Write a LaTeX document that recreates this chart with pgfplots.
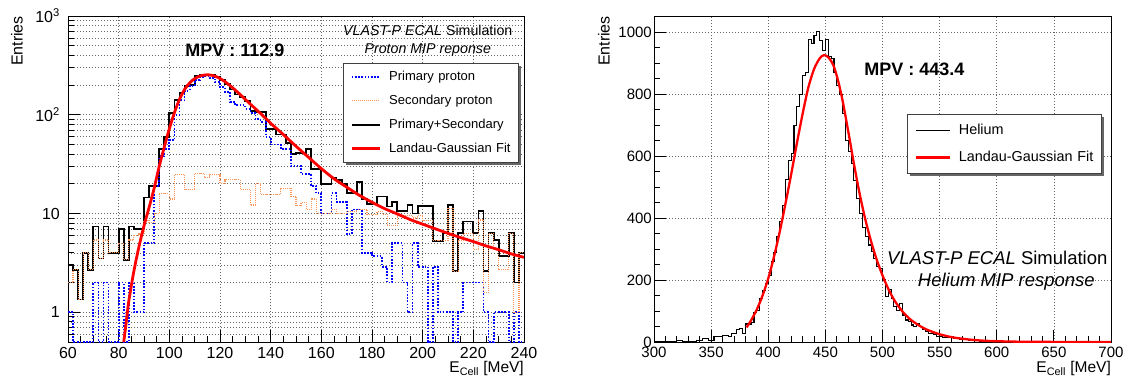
\documentclass[border=0pt]{standalone}
\usepackage{fontspec}
\setmainfont{Liberation Sans}
\usepackage{pgfplots}
\pgfplotsset{compat=1.18}
\usepackage{pgfplotstable}
\usetikzlibrary{shadows}

\definecolor{rootorange}{RGB}{250,150,90}
\definecolor{rootblue}{RGB}{0,0,255}
\definecolor{rootred}{RGB}{255,0,0}

\makeatletter
\tikzset{noshadow/.code={\let\tikz@preactions\pgfutil@empty}}
\makeatother

% Left panel: proton histograms (2 MeV bins, left edges; last row closes the last bin)
\pgfplotstableread{
E tot pri sec
60 3.0 1.0 2.0
62 2.7 0.5 2.7
64 1.35 0.5 1.35
66 4.0 0.5 4.0
68 2.7 0.5 2.7
70 7.4 2.0 5.4
72 3.5 0.5 3.5
74 7.4 2.0 5.4
76 4.0 0.5 4.0
78 4.0 0.5 4.0
80 7.0 2.0 5.0
82 3.4 0.5 3.4
84 7.4 2.0 5.4
86 7.0 1.0 6.0
88 7.0 1.0 6.2
90 14.5 5.0 8.5
92 19 5.0 8.1
94 19 19 10
96 45 38 16
98 60 45 16
100 104 55 14
102 140 100 25
104 165 140 25
106 195 175 17.5
108 200 195 17.5
110 250 225 25.6
112 254 240 25.6
114 254 245 23
116 254 235 24.7
118 240 215 24.7
120 225 190 20
122 205 170 22
124 180 135 22
126 160 125 22
128 150 125 17.5
130 137 115 17.5
132 110 105 12.2
134 106 90 20
136 106 85 15.5
138 72 60 15.5
140 72 50 15.5
142 63 50 15.5
144 63 45 18
146 52 45 18
148 40 30 15
150 41 30 12
152 41 25 13
154 45 25 11
156 28 19 14
158 28 16 10
160 20 10 10
162 20 10 10
164 23 16 11
166 22 13 10
168 20 13 10
170 16 6.2 10.5
172 16 11 10.5
174 21 11 11
176 14 4 11
178 12.6 4 9.8
180 12.6 3.7 9.8
182 14.9 3.7 10.5
184 14.9 2.9 9.8
186 11.8 2.0 7.5
188 13 5 7.5
190 10.6 5 9.5
192 10.6 2.0 9.5
194 12.3 1.0 9.5
196 10 5 9
198 12 2.9 9.5
200 12 2.9 8.5
202 12 0.5 8.5
204 5.3 2.9 5.3
206 5.3 1.0 5.3
208 6.3 1.0 5.3
210 12.3 1.0 11.3
212 2.6 0.5 2.6
214 6.3 1.0 5.3
216 8.3 2.0 6.3
218 8.3 2.0 6.3
220 6.3 2.0 4.3
222 10.6 2.0 8.6
224 2.6 1.0 1.6
226 6.3 0.5 6.3
228 5.4 1.0 4.4
230 3.7 1.0 2.7
232 3.7 1.0 2.7
234 6.3 0.5 6.3
236 2.0 1.0 1.0
238 4.0 0.5 4.0
240 4.0 0.5 4.0
}\leftdata

\pgfplotstableread{
E v
82 0.5
83 0.8
84 1.3
86 2.6
88 4.6
90 7.5
92 11.5
94 18
96 30
98 47
100 72
102 105
104 143
106 180
108 210
110 232
112 246
114 253
116 253
118 246
120 233
122 216
124 197
126 178
128 160
130 143
132 128
134 115
136 103
138 92
140 82
145 63
150 48
155 37
160 28.5
165 22.5
170 18.5
175 15.3
180 13
185 11.2
190 9.9
195 8.7
200 7.8
205 7.0
210 6.3
215 5.7
220 5.2
225 4.7
230 4.3
235 3.9
240 3.6
}\leftfit

% Right panel: helium histogram (2.5 MeV bins, left edges)
\pgfplotstableread{
E v
300 3
302.5 3
305 3
307.5 3
310 1
312.5 1
315 1
317.5 1
320 6
322.5 6
325 3
327.5 3
330 3
332.5 0
335 0
337.5 6
340 6
342.5 11
345 11
347.5 6
350 6
352.5 17
355 17
357.5 17
360 21
362.5 21
365 19
367.5 28
370 28
372.5 39
375 44
377.5 28
380 58
382.5 58
385 62
387.5 95
390 101
392.5 140
395 165
397.5 190
400 215
402.5 260
405 290
407.5 340
410 390
412.5 440
415 525
417.5 587
420 609
422.5 700
425 760
427.5 800
430 861
432.5 870
435 976
437.5 963
440 990
442.5 1003
445 974
447.5 942
450 976
452.5 920
455 915
457.5 870
460 829
462.5 800
465 737
467.5 651
470 614
472.5 576
475 522
477.5 463
480 415
482.5 370
485 340
487.5 313
490 291
492.5 270
495 245
497.5 238
500 200
502.5 146
505 168
507.5 140
510 115
512.5 103
515 125
517.5 87
520 71
522.5 66
525 55
527.5 49
530 60
532.5 49
535 39
537.5 33
540 28
542.5 26
545 23
547.5 19
550 19
552.5 15
555 15
557.5 17
560 19
562.5 12
565 12
567.5 9
570 9
572.5 9
575 6
577.5 4
580 4
582.5 4
585 3
587.5 2
590 2
592.5 2
595 2
597.5 1
600 1
602.5 2
605 1
607.5 0
610 1
612.5 0
615 1
617.5 0
620 0
700 0
}\rightdata

\pgfplotstableread{
E v
381 47
385 70
390 105
395 150
400 205
405 275
410 355
415 445
420 540
425 640
430 735
435 820
440 880
445 915
449 926
453 917
457 893
461 845
465 780
470 680
475 575
480 478
485 395
490 325
495 265
500 215
505 172
510 137
515 110
520 88
525 71
530 58
535 47
540 38
550 25
560 16
570 10.5
580 6.5
590 4
600 2.5
620 1
650 0.3
700 0
}\rightfit

\pgfplotsset{
  rootaxis/.style={
    scale only axis,
    height=326pt,
    axis line style={black, line width=0.9pt},
    tick pos=left, tick align=inside,
    major tick length=12pt, minor tick length=6pt,
    every tick/.style={black, line width=0.8pt},
    xmajorgrids, ymajorgrids,
    major grid style={black!60, line width=0.6pt, dash pattern=on 1pt off 2pt},
    minor grid style={black!60, line width=0.6pt, dash pattern=on 1pt off 2pt},
    /pgf/number format/assume math mode=true,
    /pgf/number format/1000 sep={},
    xticklabel style={inner sep=0pt, yshift=-5pt},
    every axis x label/.style={at={([yshift=-19pt]axis description cs:1,0)}, anchor=north east, inner sep=0pt},
    legend cell align=left,
    clip=true,
  }
}

\begin{document}
\begin{tikzpicture}
\useasboundingbox (0pt,0pt) rectangle (1129pt,381pt);

% ---------------- Left panel ----------------
\begin{axis}[rootaxis,
  at={(68pt,39pt)}, anchor=south west, width=456pt,
  xmin=60, xmax=240, ymode=log, ymin=0.5, ymax=1000,
  xtick={60,80,...,240}, minor x tick num=3,
  ytick={1,10,100,1000}, yticklabels={1,10,10\textsuperscript{2},10\textsuperscript{3}},
  minor ytick={0.6,0.7,0.8,0.9,2,3,4,5,6,7,8,9,20,30,40,50,60,70,80,90,200,300,400,500,600,700,800,900},
  yminorgrids,
  tick label style={font=\fontsize{16}{19}\selectfont},
  yticklabel style={inner sep=0pt, xshift=-8pt},
  xlabel={E\textsubscript{Cell} [MeV]},
  xlabel style={font=\fontsize{15.5}{18}\selectfont},
  ylabel={Entries},
  every axis y label/.style={at={([xshift=-45pt]axis description cs:0,1)}, rotate=90, anchor=south east, inner sep=0pt, font=\fontsize{16}{19}\selectfont},
  legend style={at={(0.603,0.856)}, anchor=north west, draw=black!75, line width=0.8pt, fill=white,
    drop shadow={shadow xshift=2.5pt, shadow yshift=-2.5pt, fill=black!60, opacity=1},
    font=\fontsize{13}{15}\selectfont, inner xsep=7pt, inner ysep=1.5pt, row sep=0pt,
    nodes={inner sep=0pt, minimum height=24pt},
    /tikz/every odd column/.append style={column sep=8pt},
    /tikz/every even column/.append style={text width=122pt}},
  legend image code/.code={\draw[noshadow, #1] (0pt,0pt) -- (28pt,0pt);},
]
\addplot[const plot, black, line width=1.8pt, forget plot] table[x=E, y=tot] {\leftdata};
\addplot[const plot, rootblue, line width=1.8pt, dash pattern=on 1.6pt off 1.6pt, forget plot] table[x=E, y=pri] {\leftdata};
\addplot[const plot, rootorange, line width=1.2pt, dash pattern=on 1pt off 1pt, forget plot] table[x=E, y=sec] {\leftdata};
\addplot[rootred, line width=2.8pt, smooth, forget plot] table[x=E, y=v] {\leftfit};
\addlegendimage{rootblue, line width=1.8pt, dash pattern=on 1.6pt off 1.6pt}
\addlegendentry{Primary proton}
\addlegendimage{rootorange, line width=1.2pt, dash pattern=on 1pt off 1pt}
\addlegendentry{Secondary proton}
\addlegendimage{black, line width=1.8pt}
\addlegendentry{Primary+Secondary}
\addlegendimage{rootred, line width=2.8pt}
\addlegendentry{Landau-Gaussian Fit}
\node[font=\bfseries\fontsize{18}{20}\selectfont] at (axis description cs:0.366,0.896) {MPV : 112.9};
\node[font=\fontsize{14.2}{16}\selectfont] at (axis description cs:0.789,0.957) {\textit{VLAST-P ECAL} Simulation};
\node[font=\itshape\fontsize{14.2}{16}\selectfont] at (axis description cs:0.789,0.896) {Proton MIP reponse};
\end{axis}

% ---------------- Right panel ----------------
\begin{axis}[rootaxis,
  at={(654pt,39pt)}, anchor=south west, width=457pt,
  xmin=300, xmax=700, ymin=0, ymax=1052,
  xtick={300,350,...,700}, minor x tick num=4,
  ytick={0,200,...,1000}, minor y tick num=3,
  tick label style={font=\fontsize{15}{18}\selectfont},
  yticklabel style={inner sep=0pt, xshift=-2pt},
  xlabel={E\textsubscript{Cell} [MeV]},
  xlabel style={font=\fontsize{15.5}{18}\selectfont},
  ylabel={Entries},
  every axis y label/.style={at={([xshift=-44pt]axis description cs:0,1)}, rotate=90, anchor=south east, inner sep=0pt, font=\fontsize{16}{19}\selectfont},
  legend style={at={(0.554,0.699)}, anchor=north west, draw=black!75, line width=0.8pt, fill=white,
    drop shadow={shadow xshift=2.5pt, shadow yshift=-2.5pt, fill=black!60, opacity=1},
    font=\fontsize{14.4}{17}\selectfont, inner xsep=7pt, inner ysep=2.5pt, row sep=0pt,
    nodes={inner sep=0pt, minimum height=27pt},
    /tikz/every odd column/.append style={column sep=8pt},
    /tikz/every even column/.append style={text width=136pt}},
  legend image code/.code={\draw[noshadow, #1] (0pt,0pt) -- (34pt,0pt);},
]
\addplot[const plot, black, line width=1.1pt] table[x=E, y=v] {\rightdata};
\addlegendentry{Helium}
\addplot[rootred, line width=2.3pt, smooth] table[x=E, y=v] {\rightfit};
\addlegendentry{Landau-Gaussian Fit}
\node[font=\bfseries\fontsize{18}{20}\selectfont] at (axis description cs:0.570,0.837) {MPV : 443.4};
\node[font=\fontsize{18.5}{21}\selectfont] at (axis description cs:0.751,0.258) {\textit{VLAST-P ECAL} Simulation};
\node[font=\itshape\fontsize{18.5}{21}\selectfont] at (axis description cs:0.771,0.184) {Helium MIP response};
\end{axis}
\end{tikzpicture}
\end{document}
